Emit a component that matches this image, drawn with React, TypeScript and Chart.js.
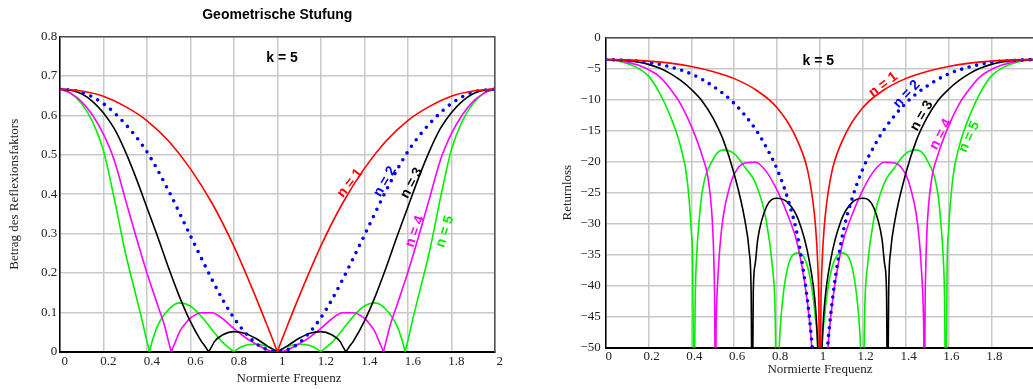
import React, { useEffect, useRef } from 'react';
import { Chart, registerables } from 'chart.js';

Chart.register(...registerables);

// ---------- Data ----------
// n = 1
const fR = [0, 0.1, 0.2, 0.3, 0.4, 0.5, 0.6, 0.7, 0.8, 0.9, 0.95, 0.98, 0.99, 0.995, 1, 1.005, 1.01, 1.02, 1.05, 1.1, 1.2, 1.3, 1.4, 1.5, 1.6, 1.7, 1.8, 1.9, 2];
const reflR = [0.667, 0.662, 0.649, 0.623, 0.587, 0.535, 0.465, 0.377, 0.268, 0.14, 0.071, 0.029, 0.0145, 0.0072, 0, 0.0072, 0.0145, 0.029, 0.071, 0.14, 0.268, 0.377, 0.465, 0.535, 0.587, 0.623, 0.649, 0.662, 0.667];
const rlR = [-3.52, -3.58, -3.78, -4.1, -4.65, -5.45, -6.6, -8.4, -11.3, -17.0, -22.6, -30.6, -36.6, -42.8, -62, -42.8, -36.6, -30.6, -22.6, -17.0, -11.3, -8.4, -6.6, -5.45, -4.65, -4.1, -3.78, -3.58, -3.52];

// n = 2
const fB = [0, 0.1, 0.2, 0.3, 0.4, 0.5, 0.6, 0.7, 0.75, 0.8, 0.85, 0.9, 0.95, 0.97, 1, 1.03, 1.05, 1.1, 1.15, 1.2, 1.25, 1.3, 1.4, 1.5, 1.6, 1.7, 1.8, 1.9, 2];
const reflB = [0.667, 0.659, 0.63, 0.579, 0.508, 0.409, 0.295, 0.183, 0.131, 0.086, 0.05, 0.022, 0.0057, 0.002, 0, 0.002, 0.0057, 0.022, 0.05, 0.086, 0.131, 0.183, 0.295, 0.409, 0.508, 0.579, 0.63, 0.659, 0.667];
const rlB = [-3.52, -3.65, -3.98, -4.7, -5.85, -7.8, -10.6, -14.8, -17.7, -21.2, -26.0, -32.8, -44.8, -52.5, -70, -52.5, -44.8, -32.8, -26.0, -21.2, -17.7, -14.8, -10.6, -7.8, -5.85, -4.7, -3.98, -3.65, -3.52];

// n = 3
const fK = [0, 0.05, 0.1, 0.15, 0.2, 0.25, 0.3, 0.35, 0.4, 0.45, 0.5, 0.55, 0.6, 0.65, 0.67, 0.679, 0.684, 0.689, 0.698, 0.71, 0.75, 0.8, 0.85, 0.9, 0.95, 0.98, 0.99, 0.995, 1, 1.005, 1.01, 1.02, 1.05, 1.1, 1.15, 1.2, 1.25, 1.29, 1.302, 1.311, 1.316, 1.321, 1.33, 1.35, 1.4, 1.45, 1.5, 1.55, 1.6, 1.65, 1.7, 1.75, 1.8, 1.85, 1.9, 1.95, 2];
const reflK = [0.667, 0.664, 0.655, 0.636, 0.607, 0.567, 0.51, 0.442, 0.367, 0.292, 0.213, 0.14, 0.077, 0.027, 0.012, 0.004, 0, 0.004, 0.012, 0.025, 0.043, 0.051, 0.047, 0.034, 0.016, 0.0065, 0.0032, 0.0016, 0, 0.0016, 0.0032, 0.0065, 0.016, 0.034, 0.047, 0.051, 0.043, 0.025, 0.012, 0.004, 0, 0.004, 0.012, 0.027, 0.077, 0.14, 0.213, 0.292, 0.367, 0.442, 0.51, 0.567, 0.607, 0.636, 0.655, 0.664, 0.667];
const rlK = [-3.52, -3.56, -3.68, -3.93, -4.3, -4.9, -5.75, -6.9, -8.35, -10.2, -12.9, -16.6, -22.0, -29.5, -34.5, -41, -62, -41, -36.5, -32.5, -27.3, -25.9, -26.6, -29.4, -35.9, -43.7, -49.9, -56, -75, -56, -49.9, -43.7, -35.9, -29.4, -26.6, -25.9, -27.3, -32.5, -36.5, -41, -62, -41, -34.5, -29.5, -22.0, -16.6, -12.9, -10.2, -8.35, -6.9, -5.75, -4.9, -4.3, -3.93, -3.68, -3.56, -3.52];

// n = 4
const fM = [0, 0.05, 0.1, 0.15, 0.2, 0.25, 0.3, 0.35, 0.4, 0.45, 0.48, 0.5, 0.506, 0.509, 0.512, 0.515, 0.518, 0.525, 0.535, 0.55, 0.575, 0.6, 0.65, 0.7, 0.75, 0.8, 0.85, 0.9, 0.95, 0.97, 1, 1.03, 1.05, 1.1, 1.15, 1.2, 1.25, 1.3, 1.35, 1.4, 1.425, 1.45, 1.465, 1.475, 1.482, 1.485, 1.488, 1.491, 1.494, 1.5, 1.52, 1.55, 1.6, 1.65, 1.7, 1.75, 1.8, 1.85, 1.9, 1.95, 2];
const reflM = [0.667, 0.656, 0.635, 0.601, 0.553, 0.487, 0.39, 0.293, 0.201, 0.118, 0.069, 0.026, 0.013, 0.0065, 0, 0.004, 0.008, 0.017, 0.03, 0.05, 0.07, 0.085, 0.099, 0.099, 0.083, 0.059, 0.037, 0.02, 0.0055, 0.002, 0, 0.002, 0.0055, 0.02, 0.037, 0.059, 0.083, 0.099, 0.099, 0.085, 0.07, 0.05, 0.03, 0.017, 0.008, 0.004, 0, 0.0065, 0.013, 0.026, 0.069, 0.118, 0.201, 0.293, 0.39, 0.487, 0.553, 0.601, 0.635, 0.656, 0.667];
const rlM = [-3.52, -3.66, -3.94, -4.42, -5.15, -6.25, -8.2, -10.7, -14.3, -19.0, -23.2, -31.0, -37.5, -43.5, -62, -48, -43, -38, -33, -28.5, -24.5, -22.0, -20.2, -20.1, -21.6, -24.6, -28.6, -34.0, -45.2, -54, -75, -54, -45.2, -34.0, -28.6, -24.6, -21.6, -20.1, -20.2, -22.0, -24.5, -28.5, -33, -38, -43, -48, -62, -43.5, -37.5, -31.0, -23.2, -19.0, -14.3, -10.7, -8.2, -6.25, -5.15, -4.42, -3.94, -3.66, -3.52];

// n = 5
const fG = [0, 0.05, 0.1, 0.15, 0.2, 0.25, 0.3, 0.35, 0.38, 0.4, 0.406, 0.412, 0.418, 0.425, 0.435, 0.45, 0.5, 0.55, 0.6, 0.65, 0.7, 0.75, 0.78, 0.79, 0.8, 0.81, 0.82, 0.85, 0.9, 0.95, 0.98, 0.99, 1, 1.01, 1.02, 1.05, 1.1, 1.15, 1.18, 1.19, 1.2, 1.21, 1.22, 1.25, 1.3, 1.35, 1.4, 1.45, 1.5, 1.55, 1.565, 1.575, 1.582, 1.588, 1.594, 1.6, 1.62, 1.65, 1.7, 1.75, 1.8, 1.85, 1.9, 1.95, 2];
const reflG = [0.667, 0.657, 0.63, 0.585, 0.512, 0.39, 0.255, 0.143, 0.076, 0.027, 0.015, 0, 0.012, 0.027, 0.044, 0.066, 0.107, 0.124, 0.116, 0.09, 0.056, 0.023, 0.009, 0.0045, 0, 0.004, 0.008, 0.016, 0.019, 0.014, 0.0055, 0.0028, 0, 0.0028, 0.0055, 0.014, 0.019, 0.016, 0.008, 0.004, 0, 0.0045, 0.009, 0.023, 0.056, 0.09, 0.116, 0.124, 0.107, 0.066, 0.044, 0.027, 0.012, 0, 0.015, 0.027, 0.076, 0.143, 0.255, 0.39, 0.512, 0.585, 0.63, 0.657, 0.667];
const rlG = [-3.52, -3.7, -4.15, -4.9, -6.2, -8.8, -12.5, -17.6, -22.8, -31.4, -36.5, -62, -42, -35, -30, -25, -19.7, -18.1, -18.7, -20.9, -23.5, -29.6, -37.5, -43, -62, -50, -44.5, -37, -34.7, -38, -45.5, -50.5, -70, -50.5, -45.5, -38, -34.7, -37, -44.5, -50, -62, -43, -37.5, -29.6, -23.5, -20.9, -18.7, -18.1, -19.7, -25, -30, -35, -42, -62, -36.5, -31.4, -22.8, -17.6, -12.5, -8.8, -6.2, -4.9, -4.15, -3.7, -3.52];

// Tick labels
const xTickLabels = ['0', '0.2', '0.4', '0.6', '0.8', '1', '1.2', '1.4', '1.6', '1.8', '2'];
const reflTickLabels = ['0', '0.1', '0.2', '0.3', '0.4', '0.5', '0.6', '0.7', '0.8'];
const rlTickLabels = ['0', '\u22125', '\u221210', '\u221215', '\u221220', '\u221225', '\u221230', '\u221235', '\u221240', '\u221245', '\u221250'];
const seriesNames = ['n = 1', 'n = 2', 'n = 3', 'n = 4', 'n = 5'];

// ---------- Styles ----------
const SERIF = "'Liberation Serif', 'Times New Roman', serif";
const SANS = "'Liberation Sans', Arial, sans-serif";
const COLORS = ['#ff0000', '#0000ff', '#000000', '#ff00ff', '#00f000'];
const GRID = '#c8c8c8';

const pts = (f: number[], v: number[]) => f.map((x, i) => ({ x, y: v[i] }));

function makeDatasets(series: number[][][], dotGap: number) {
  return series.map(([f, v], i) => ({
    label: seriesNames[i],
    data: pts(f, v),
    borderColor: COLORS[i],
    backgroundColor: COLORS[i],
    borderWidth: i === 1 ? 3.6 : 1.6,
    borderDash: i === 1 ? [0, dotGap] : [],
    borderCapStyle: i === 1 ? 'round' : 'butt',
    borderJoinStyle: 'round',
    pointRadius: 0,
    fill: false,
    cubicInterpolationMode: 'monotone',
  }));
}

const framePlugin = {
  id: 'frameBox',
  afterDatasetsDraw(chart: any) {
    const { ctx, chartArea: a } = chart;
    ctx.save();
    ctx.strokeStyle = '#505050';
    ctx.lineWidth = 1.5;
    ctx.beginPath();
    ctx.moveTo(a.left, a.top);
    ctx.lineTo(a.right, a.top);
    ctx.lineTo(a.right, a.bottom);
    ctx.stroke();
    ctx.restore();
  },
};

const textPlugin = {
  id: 'curveText',
  afterDatasetsDraw(chart: any, _args: any, opts: any) {
    const { ctx, scales } = chart;
    for (const t of opts.items || []) {
      ctx.save();
      ctx.translate(scales.x.getPixelForValue(t.x), scales.y.getPixelForValue(t.y));
      ctx.rotate((t.angle * Math.PI) / 180);
      ctx.font = t.font || `bold ${t.size}px ${SANS}`;
      ctx.fillStyle = t.color;
      ctx.textAlign = 'center';
      ctx.textBaseline = 'middle';
      ctx.fillText(t.text, 0, 0);
      ctx.restore();
    }
  },
};

const leftTexts = [
  { text: 'k = 5', color: '#000', x: 1.022, y: 0.746, angle: 0, size: 14 },
  { text: seriesNames[0], color: COLORS[0], x: 1.334, y: 0.428, angle: -52, size: 14 },
  { text: seriesNames[1], color: COLORS[1], x: 1.495, y: 0.432, angle: -60, size: 14 },
  { text: seriesNames[2], color: COLORS[2], x: 1.618, y: 0.428, angle: -62, size: 14 },
  { text: seriesNames[3], color: COLORS[3], x: 1.633, y: 0.305, angle: -70, size: 14 },
  { text: seriesNames[4], color: COLORS[4], x: 1.771, y: 0.305, angle: -72, size: 14 },
  { text: 'Normierte Frequenz', color: '#222', x: 1.054, y: -0.0693, angle: 0, font: `13px ${SERIF}` },
];

const rightTexts = [
  { text: 'k = 5', color: '#000', x: 0.9925, y: -3.76, angle: 0, size: 14 },
  { text: seriesNames[0], color: COLORS[0], x: 1.296, y: -7.6, angle: -37, size: 14 },
  { text: seriesNames[1], color: COLORS[1], x: 1.405, y: -9.1, angle: -47, size: 14 },
  { text: seriesNames[2], color: COLORS[2], x: 1.475, y: -12.6, angle: -60, size: 14 },
  { text: seriesNames[3], color: COLORS[3], x: 1.564, y: -15.6, angle: -62, size: 14 },
  { text: seriesNames[4], color: COLORS[4], x: 1.697, y: -16.0, angle: -65, size: 14 },
];

function baseX(labels: string[], labelOffset: number, tickPad: number, height: number, titlePadBottom: number, showTitle: boolean) {
  return {
    type: 'linear',
    min: 0,
    max: 2,
    afterFit: (s: any) => { s.height = height; },
    ticks: {
      stepSize: 0.2,
      autoSkip: false,
      maxRotation: 0,
      labelOffset,
      padding: tickPad,
      color: '#222',
      font: { family: SERIF, size: 13 },
      callback: (_v: any, i: number) => labels[i] ?? '',
    },
    grid: { color: GRID, lineWidth: 1.5, drawTicks: false },
    border: { color: '#000', width: 2 },
    title: {
      display: showTitle,
      text: 'Normierte Frequenz',
      color: '#222',
      font: { family: SERIF, size: 13 },
      padding: { top: 0, bottom: titlePadBottom },
    },
  };
}

function ChartCanvas({ config, left, width }: { config: any; left: number; width: number }) {
  const ref = useRef<HTMLCanvasElement>(null);
  useEffect(() => {
    if (!ref.current) return;
    const chart = new Chart(ref.current, config);
    return () => chart.destroy();
  }, []);
  return (
    <canvas
      ref={ref}
      width={width}
      height={389}
      style={{ position: 'absolute', left, top: 0, width, height: 389 }}
    />
  );
}

export default function App() {
  Chart.defaults.font.family = SANS;

  const leftConfig = {
    type: 'line',
    data: {
      datasets: makeDatasets(
        [[fR, reflR], [fB, reflB], [fK, reflK], [fM, reflM], [fG, reflG]],
        8
      ),
    },
    options: {
      animation: false,
      responsive: false,
      maintainAspectRatio: false,
      devicePixelRatio: 1,
      events: [],
      layout: { padding: { left: 0, right: 25.2, top: 0, bottom: 0 } },
      plugins: {
        legend: { display: false },
        tooltip: { enabled: false },
        title: {
          display: true,
          text: 'Geometrische Stufung',
          fullSize: false,
          color: '#000',
          font: { family: SANS, size: 14, weight: 'bold' },
          padding: { top: 6.9, bottom: 13.0 },
        },
        curveText: { items: leftTexts },
      },
      scales: {
        x: baseX(xTickLabels, 5, 2.2, 37.3, 2.2, false),
        y: {
          min: 0,
          max: 0.8,
          afterFit: (s: any) => { s.width = 59.8; },
          ticks: {
            stepSize: 0.1,
            autoSkip: false,
            padding: 2.5,
            color: '#222',
            font: { family: SERIF, size: 13 },
            callback: (_v: any, i: number) => reflTickLabels[i] ?? '',
          },
          grid: { color: GRID, lineWidth: 1.5, drawTicks: false },
          border: { color: '#000', width: 1.5 },
          title: {
            display: true,
            text: 'Betrag des Reflexionsfaktors',
            color: '#222',
            font: { family: SERIF, size: 13 },
            padding: { top: 7.2, bottom: 0 },
          },
        },
      },
    },
    plugins: [framePlugin, textPlugin],
  };

  const rightConfig = {
    type: 'line',
    data: {
      datasets: makeDatasets(
        [[fR, rlR], [fB, rlB], [fK, rlK], [fM, rlM], [fG, rlG]],
        7.7
      ),
    },
    options: {
      animation: false,
      responsive: false,
      maintainAspectRatio: false,
      devicePixelRatio: 1,
      events: [],
      layout: { padding: { left: 0, right: 5.9, top: 37.7, bottom: 0 } },
      plugins: {
        legend: { display: false },
        tooltip: { enabled: false },
        curveText: { items: rightTexts },
      },
      scales: {
        x: baseX(xTickLabels, 3, 1.2, 41.3, 11.9, true),
        y: {
          min: -50,
          max: 0,
          afterFit: (s: any) => { s.width = 45.7; },
          ticks: {
            stepSize: 5,
            autoSkip: false,
            padding: 5,
            color: '#222',
            font: { family: SERIF, size: 13 },
            callback: (v: any) => rlTickLabels[Math.round(-Number(v) / 5)] ?? '',
          },
          grid: { color: GRID, lineWidth: 1.5, drawTicks: false },
          border: { color: '#000', width: 1.5 },
          title: {
            display: true,
            text: 'Returnloss',
            color: '#222',
            font: { family: SERIF, size: 13 },
            padding: { top: 0, bottom: 0 },
          },
        },
      },
    },
    plugins: [framePlugin, textPlugin],
  };

  return (
    <div
      style={{
        position: 'absolute',
        left: 0,
        top: 0,
        width: 1033,
        height: 389,
        overflow: 'hidden',
        background: '#ffffff',
      }}
    >
      <ChartCanvas config={leftConfig} left={0} width={520} />
      <ChartCanvas config={rightConfig} left={560} width={480} />
    </div>
  );
}
